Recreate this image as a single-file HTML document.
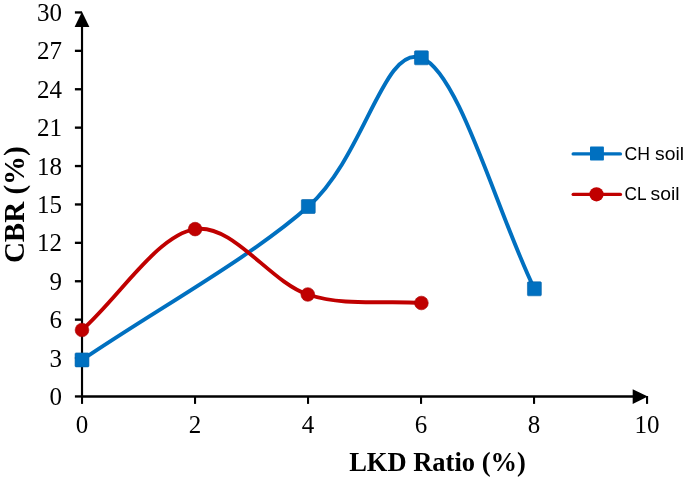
<!DOCTYPE html>
<html><head><meta charset="utf-8"><style>
html,body{margin:0;padding:0;background:#fff;width:685px;height:479px;overflow:hidden}
svg{display:block;will-change:transform}
.tl{font-family:"Liberation Serif",serif;font-size:25px;fill:#000}
.lg{font-family:"Liberation Sans",sans-serif;font-size:18.4px;fill:#000}
.at{font-family:"Liberation Serif",serif;font-size:26px;font-weight:bold;fill:#000}
</style></head><body>
<svg width="685" height="479" viewBox="0 0 685 479">
<line x1="82" y1="396.45" x2="640" y2="396.45" stroke="#000" stroke-width="2.35"/>
<line x1="82.02" y1="396.45" x2="82.02" y2="20" stroke="#000" stroke-width="2.15"/>
<path d="M74.6,27 L82,11.7 L89.4,27 Z" fill="#000"/>
<path d="M632.7,389.3 L647.8,396.6 L632.7,403.9 Z" fill="#000"/>
<line x1="74.9" y1="396.45" x2="82" y2="396.45" stroke="#000" stroke-width="2.35"/>
<line x1="74.9" y1="358.05" x2="82" y2="358.05" stroke="#000" stroke-width="2.35"/>
<line x1="74.9" y1="319.65" x2="82" y2="319.65" stroke="#000" stroke-width="2.35"/>
<line x1="74.9" y1="281.25" x2="82" y2="281.25" stroke="#000" stroke-width="2.35"/>
<line x1="74.9" y1="242.85" x2="82" y2="242.85" stroke="#000" stroke-width="2.35"/>
<line x1="74.9" y1="204.45" x2="82" y2="204.45" stroke="#000" stroke-width="2.35"/>
<line x1="74.9" y1="166.05" x2="82" y2="166.05" stroke="#000" stroke-width="2.35"/>
<line x1="74.9" y1="127.65" x2="82" y2="127.65" stroke="#000" stroke-width="2.35"/>
<line x1="74.9" y1="89.25" x2="82" y2="89.25" stroke="#000" stroke-width="2.35"/>
<line x1="74.9" y1="50.85" x2="82" y2="50.85" stroke="#000" stroke-width="2.35"/>
<line x1="74.9" y1="12.45" x2="82" y2="12.45" stroke="#000" stroke-width="2.35"/>
<line x1="82.02" y1="396" x2="82.02" y2="403.9" stroke="#000" stroke-width="2.1"/>
<line x1="195.03" y1="396" x2="195.03" y2="403.9" stroke="#000" stroke-width="2.1"/>
<line x1="308.03" y1="396" x2="308.03" y2="403.9" stroke="#000" stroke-width="2.1"/>
<line x1="421.04" y1="396" x2="421.04" y2="403.9" stroke="#000" stroke-width="2.1"/>
<line x1="534.04" y1="396" x2="534.04" y2="403.9" stroke="#000" stroke-width="2.1"/>
<line x1="647.05" y1="396" x2="647.05" y2="403.9" stroke="#000" stroke-width="2.1"/>
<text x="62" y="404.95" text-anchor="end" class="tl">0</text>
<text x="62" y="366.55" text-anchor="end" class="tl">3</text>
<text x="62" y="328.15" text-anchor="end" class="tl">6</text>
<text x="62" y="289.75" text-anchor="end" class="tl">9</text>
<text x="62" y="251.35" text-anchor="end" class="tl">12</text>
<text x="62" y="212.95" text-anchor="end" class="tl">15</text>
<text x="62" y="174.55" text-anchor="end" class="tl">18</text>
<text x="62" y="136.15" text-anchor="end" class="tl">21</text>
<text x="62" y="97.75" text-anchor="end" class="tl">24</text>
<text x="62" y="59.35" text-anchor="end" class="tl">27</text>
<text x="62" y="20.95" text-anchor="end" class="tl">30</text>
<text x="82.02" y="433" text-anchor="middle" class="tl">0</text>
<text x="195.02" y="433" text-anchor="middle" class="tl">2</text>
<text x="308.02" y="433" text-anchor="middle" class="tl">4</text>
<text x="421.02" y="433" text-anchor="middle" class="tl">6</text>
<text x="534.02" y="433" text-anchor="middle" class="tl">8</text>
<text x="647.02" y="433" text-anchor="middle" class="tl">10</text>
<path d="M82.00,359.90 C157.43,308.77 251.73,256.85 308.30,206.50 C364.87,156.15 383.72,44.08 421.40,57.80 C459.08,71.52 496.73,211.80 534.40,288.80" fill="none" stroke="#0070C0" stroke-width="3.9" stroke-linejoin="round"/>
<path d="M82.00,330.00 C119.70,296.37 157.47,235.02 195.10,229.10 C232.73,223.18 270.08,282.18 307.80,294.50 C345.52,306.82 383.53,300.17 421.40,303.00" fill="none" stroke="#C00000" stroke-width="3.9" stroke-linejoin="round"/>
<rect x="75.05" y="352.90" width="13.9" height="14.0" rx="1" fill="#0070C0" stroke="#0062a8" stroke-width="0.6"/>
<rect x="301.35" y="199.50" width="13.9" height="14.0" rx="1" fill="#0070C0" stroke="#0062a8" stroke-width="0.6"/>
<rect x="414.45" y="50.80" width="13.9" height="14.0" rx="1" fill="#0070C0" stroke="#0062a8" stroke-width="0.6"/>
<rect x="527.45" y="281.80" width="13.9" height="14.0" rx="1" fill="#0070C0" stroke="#0062a8" stroke-width="0.6"/>
<circle cx="82.00" cy="330.00" r="6.85" fill="#C00000" stroke="#a80000" stroke-width="0.6"/>
<circle cx="195.10" cy="229.10" r="6.85" fill="#C00000" stroke="#a80000" stroke-width="0.6"/>
<circle cx="307.80" cy="294.50" r="6.85" fill="#C00000" stroke="#a80000" stroke-width="0.6"/>
<circle cx="421.40" cy="303.00" r="6.85" fill="#C00000" stroke="#a80000" stroke-width="0.6"/>
<line x1="573.2" y1="153.9" x2="620.4" y2="153.9" stroke="#0070C0" stroke-width="3.4" stroke-linecap="round"/>
<rect x="590.0" y="146.6" width="13.9" height="13.9" rx="0.8" fill="#0070C0"/>
<text x="624.5" y="159.9" class="lg" textLength="25.5" lengthAdjust="spacingAndGlyphs">CH</text>
<text x="655.0" y="159.9" class="lg" textLength="29.0" lengthAdjust="spacingAndGlyphs">soil</text>
<line x1="573.2" y1="194.4" x2="620.4" y2="194.4" stroke="#C00000" stroke-width="3.4" stroke-linecap="round"/>
<circle cx="596.5" cy="194.3" r="7.1" fill="#C00000"/>
<text x="624.5" y="200.4" class="lg" textLength="22.0" lengthAdjust="spacingAndGlyphs">CL</text>
<text x="650.5" y="200.4" class="lg" textLength="29.0" lengthAdjust="spacingAndGlyphs">soil</text>
<text x="437.5" y="470.8" text-anchor="middle" class="at" style="font-size:26.5px">LKD Ratio (%)</text>
<text transform="translate(24.1,204.7) rotate(-90)" text-anchor="middle" class="at" style="font-size:29px">CBR (%)</text>
</svg>
</body></html>
